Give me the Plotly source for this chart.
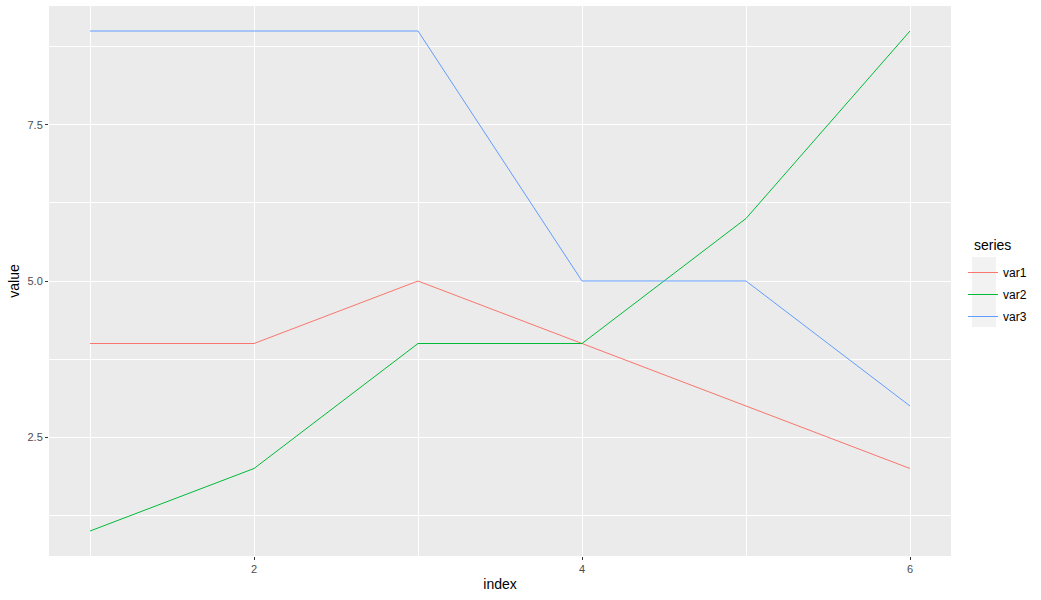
import plotly.graph_objects as go

index = [1, 2, 3, 4, 5, 6]
var1 = [4, 4, 5, 4, 3, 2]
var2 = [1, 2, 4, 4, 6, 9]
var3 = [9, 9, 9, 5, 5, 3]
series_names = ["var1", "var2", "var3"]
colors = ["#F8766D", "#00BA38", "#619CFF"]
x_ticks = [2, 4, 6]
y_ticks = [2.5, 5.0, 7.5]
y_tick_labels = ["2.5", "5.0", "7.5"]

L, R, T, B = 49, 90, 6, 44
PW, PH = 1041 - L - R, 600 - T - B


def px_x(px):
    return (px - L) / PW


def px_y(py):
    return (600 - B - py) / PH


fig = go.Figure()
for name, vals, col in zip(series_names, [var1, var2, var3], colors):
    fig.add_trace(go.Scatter(x=index, y=vals, mode="lines", name=name,
                             legendgroup=name,
                             line=dict(color=col, width=1)))

axis_common = dict(
    showgrid=True, gridcolor="white", gridwidth=1.1,
    zeroline=False, showline=False, automargin=False,
    ticks="outside", ticklen=3, tickcolor="#333333", tickwidth=1,
    tickfont=dict(family="Liberation Sans, Arial", size=11, color="#4D4D4D"),
    title_font=dict(family="Liberation Sans, Arial", size=14, color="black"),
)

fig.update_xaxes(range=[0.75, 6.25], tickvals=x_ticks, title_text="index",
                 title_standoff=4,
                 minor=dict(tickvals=[1, 3, 5], showgrid=True, gridcolor="white",
                            gridwidth=0.5, ticks=""),
                 **axis_common)
fig.update_yaxes(range=[0.6, 9.4], tickvals=y_ticks, ticktext=y_tick_labels,
                 title_text="value", title_standoff=4,
                 minor=dict(tickvals=[1.25, 3.75, 6.25, 8.75], showgrid=True,
                            gridcolor="white", gridwidth=0.5, ticks=""),
                 **axis_common)

# gray legend key background
fig.add_shape(type="rect", xref="paper", yref="paper",
              x0=px_x(972), x1=px_x(996), y0=px_y(327), y1=px_y(257),
              fillcolor="#F2F2F2", line=dict(width=0), layer="below")

# legend title
fig.add_annotation(text="series", xref="paper", yref="paper",
                   x=px_x(972), y=px_y(245), xanchor="left", yanchor="middle",
                   showarrow=False,
                   font=dict(family="Liberation Sans, Arial", size=14, color="black"))

fig.update_layout(
    width=1041, height=600,
    margin=dict(l=L, r=R, t=T, b=B, autoexpand=False),
    plot_bgcolor="#EBEBEB", paper_bgcolor="white",
    font=dict(family="Liberation Sans, Arial", size=12, color="black"),
    legend=dict(
        x=px_x(963), xanchor="left", y=px_y(258), yanchor="top",
        font=dict(size=12, color="black"),
        itemwidth=30, bgcolor="rgba(0,0,0,0)",
        tracegroupgap=3,
    ),
    showlegend=True,
)

fig.write_html("out.html", config={"displayModeBar": False},
               post_script="document.body.style.margin='0px';")
